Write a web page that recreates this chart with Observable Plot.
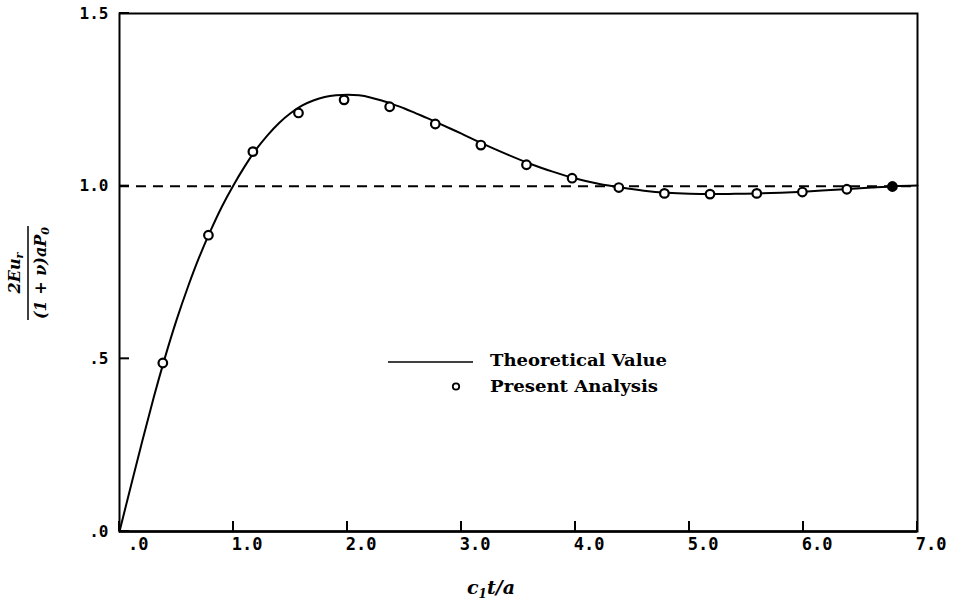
<!DOCTYPE html>
<html>
<head>
<meta charset="utf-8">
<script src="https://cdn.jsdelivr.net/npm/d3@7"></script>
<script src="https://cdn.jsdelivr.net/npm/@observablehq/plot@0.6"></script>
<style>
  html, body { margin: 0; padding: 0; background: #fff; }
  #chart { width: 953px; height: 608px; }
</style>
</head>
<body>
<div id="chart"></div>
<script>
// ---- data ----
const theoryT = [0, 0.1, 0.2, 0.3, 0.4, 0.5, 0.6, 0.7, 0.8, 0.9, 1.0, 1.1, 1.2, 1.3, 1.4, 1.5, 1.6, 1.7, 1.8, 1.9, 2.0, 2.1, 2.2, 2.3, 2.4, 2.5, 2.6, 2.7, 2.8, 2.9, 3.0, 3.2, 3.4, 3.6, 3.8, 4.0, 4.2, 4.4, 4.6, 4.8, 5.0, 5.2, 5.4, 5.6, 5.8, 6.0, 6.2, 6.4, 6.6, 6.8, 7.0];
const theoryV = [0, 0.132, 0.262, 0.388, 0.505, 0.612, 0.708, 0.795, 0.872, 0.942, 1.003, 1.058, 1.107, 1.148, 1.183, 1.211, 1.233, 1.248, 1.258, 1.263, 1.265, 1.263, 1.257, 1.248, 1.237, 1.225, 1.211, 1.197, 1.182, 1.167, 1.152, 1.121, 1.092, 1.065, 1.042, 1.022, 1.007, 0.996, 0.987, 0.981, 0.978, 0.977, 0.978, 0.979, 0.981, 0.984, 0.988, 0.992, 0.996, 1.0, 1.002];
const analysisT = [0.38, 0.78, 1.17, 1.57, 1.97, 2.37, 2.77, 3.17, 3.57, 3.97, 4.38, 4.78, 5.18, 5.59, 5.99, 6.38, 6.78];
const analysisV = [0.488, 0.858, 1.100, 1.212, 1.250, 1.230, 1.180, 1.119, 1.062, 1.023, 0.996, 0.979, 0.977, 0.979, 0.983, 0.991, 0.999];
const referenceLevel = [1.0];
const xTicks = [0, 1, 2, 3, 4, 5, 6, 7];
const xTickLabels = [".0", "1.0", "2.0", "3.0", "4.0", "5.0", "6.0", "7.0"];
const yTicks = [0, 0.5, 1.0, 1.5];
const yTickLabels = [".0", ".5", "1.0", "1.5"];
const legendLabels = ["Theoretical Value", "Present Analysis"];
const xLabelParts = ["c", "1", "t/a"];
const yLabelNum = ["2Eu", "r"];
const yLabelDen = ["(1 + ν)aP", "0"];

// ---- tables ----
const theory = theoryT.map((t, i) => ({t, v: theoryV[i]}));
const analysis = analysisT.map((t, i) => ({t, v: analysisV[i], last: i === analysisT.length - 1}));

const mono = "'DejaVu Sans Mono', monospace";
const serif = "'DejaVu Serif', serif";

const W = 953, H = 608, ML = 119, MR = 36, MT = 13, MB = 77;
const tickLen = 10;

const plot = Plot.plot({
  width: W,
  height: H,
  marginLeft: ML,
  marginRight: MR,
  marginTop: MT,
  marginBottom: MB,
  style: {background: "white", color: "black", overflow: "visible"},
  x: {domain: [0, 7], label: null},
  y: {domain: [0, 1.5], label: null},
  marks: [
    Plot.ruleY(referenceLevel, {stroke: "black", strokeWidth: 2, strokeDasharray: "10,7"}),
    Plot.line(theory, {x: "t", y: "v", curve: "natural", stroke: "black", strokeWidth: 2}),
    Plot.dot(analysis, {x: "t", y: "v", r: 4.3, stroke: "black", strokeWidth: 2.2, fill: d => d.last ? "black" : "white"}),
    Plot.frame({stroke: "black", strokeWidth: 2}),
    Plot.ruleY([0], {stroke: "black", strokeWidth: 2.5}),
    // tick labels
    Plot.axisY(yTicks, {anchor: "left", tickSize: 0, tickPadding: 11, label: null,
      tickFormat: d => yTickLabels[yTicks.indexOf(d)],
      fontFamily: mono, fontSize: 16, fontWeight: "bold"}),
    Plot.axisX(xTicks, {anchor: "bottom", tickSize: 0, tickPadding: 6, label: null,
      tickFormat: d => xTickLabels[xTicks.indexOf(d)],
      textAnchor: "end", dx: 29,
      fontFamily: mono, fontSize: 17, fontWeight: "bold"})
  ]
});

document.getElementById("chart").appendChild(plot);

const svg = d3.select(plot);
const sx = plot.scale("x"), sy = plot.scale("y");
const yBottom = sy.apply(0), xLeft = sx.apply(0);

// inward tick marks, positioned through Plot's own scales
const tk = svg.append("g").attr("stroke", "black").attr("stroke-width", 2);
tk.selectAll("line.xt").data(xTicks).join("line")
  .attr("x1", d => sx.apply(d)).attr("x2", d => sx.apply(d))
  .attr("y1", yBottom).attr("y2", yBottom - tickLen);
tk.selectAll("line.yt").data(yTicks).join("line")
  .attr("class", "yt")
  .attr("x1", xLeft).attr("x2", xLeft + tickLen)
  .attr("y1", d => sy.apply(d)).attr("y2", d => sy.apply(d));

// y-axis label (rotated fraction)
const yl = svg.append("g")
  .attr("transform", "translate(0,273) rotate(-90)")
  .attr("font-family", serif)
  .attr("font-weight", "bold")
  .attr("font-style", "italic")
  .attr("fill", "black");
const num = yl.append("text").attr("x", 0).attr("y", 20).attr("text-anchor", "middle").attr("font-size", 16);
num.append("tspan").text(yLabelNum[0]);
num.append("tspan").attr("dy", 3).attr("font-size", 11).text(yLabelNum[1]);
yl.append("line").attr("x1", -47).attr("x2", 47).attr("y1", 28).attr("y2", 28)
  .attr("stroke", "black").attr("stroke-width", 1.5);
const den = yl.append("text").attr("x", 0).attr("y", 46).attr("text-anchor", "middle").attr("font-size", 16);
den.append("tspan").text(yLabelDen[0]);
den.append("tspan").attr("dy", 3).attr("font-size", 11).text(yLabelDen[1]);

// x-axis label
const xl = svg.append("text")
  .attr("x", 467).attr("y", 594)
  .attr("text-anchor", "start")
  .attr("font-family", serif).attr("font-weight", "bold").attr("font-style", "italic")
  .attr("font-size", 19).attr("fill", "black");
xl.append("tspan").text(xLabelParts[0]);
xl.append("tspan").attr("dy", 4).attr("font-size", 12).text(xLabelParts[1]);
xl.append("tspan").attr("dy", -4).text(xLabelParts[2]);

// legend
const lg = svg.append("g").attr("font-family", serif).attr("font-weight", "bold").attr("fill", "black");
lg.append("line").attr("x1", 388).attr("x2", 473).attr("y1", 362).attr("y2", 362)
  .attr("stroke", "black").attr("stroke-width", 1.6);
lg.append("text").attr("x", 490).attr("y", 365.5).attr("font-size", 16).attr("text-anchor", "start")
  .attr("textLength", 177).attr("lengthAdjust", "spacingAndGlyphs").text(legendLabels[0]);
lg.append("circle").attr("cx", 456).attr("cy", 386.5).attr("r", 3.2)
  .attr("fill", "white").attr("stroke", "black").attr("stroke-width", 1.8);
lg.append("text").attr("x", 490).attr("y", 391.5).attr("font-size", 16).attr("text-anchor", "start")
  .attr("textLength", 168).attr("lengthAdjust", "spacingAndGlyphs").text(legendLabels[1]);
</script>
</body>
</html>
